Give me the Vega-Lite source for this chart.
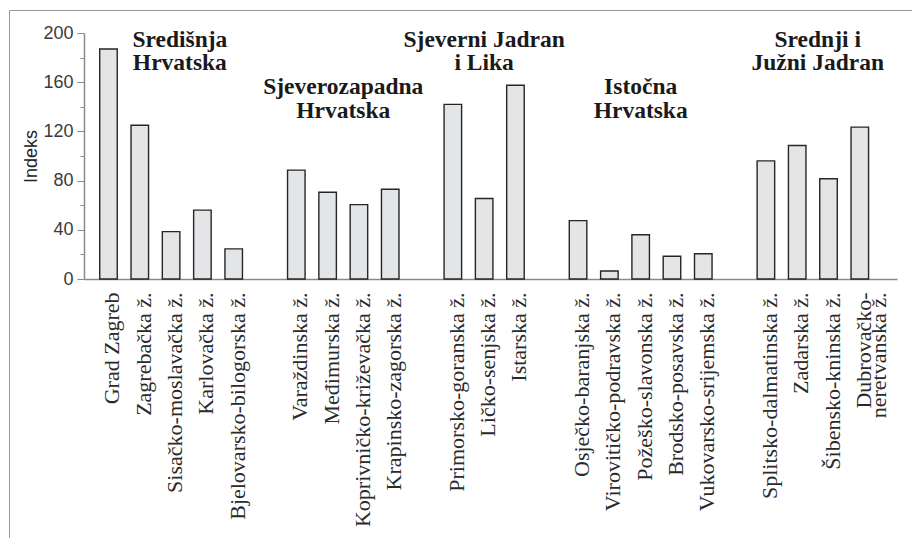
{
  "$schema": "https://vega.github.io/schema/vega-lite/v6.json",
  "width": 908,
  "height": 533,
  "autosize": {"type": "none"},
  "padding": {"left": 9, "top": 10, "right": -5, "bottom": -5},
  "background": "white",
  "config": {"view": {"stroke": "#9a9a9a", "strokeWidth": 1}},
  "datasets": {
    "counties": [
      {"county": "Grad Zagreb", "region": "Središnja Hrvatska", "index": 187},
      {"county": "Zagrebačka ž.", "region": "Središnja Hrvatska", "index": 125},
      {"county": "Sisačko-moslavačka ž.", "region": "Središnja Hrvatska", "index": 38.5},
      {"county": "Karlovačka ž.", "region": "Središnja Hrvatska", "index": 56},
      {"county": "Bjelovarsko-bilogorska ž.", "region": "Središnja Hrvatska", "index": 24.5},
      {"county": "Varaždinska ž.", "region": "Sjeverozapadna Hrvatska", "index": 88.5},
      {"county": "Međimurska ž.", "region": "Sjeverozapadna Hrvatska", "index": 70.5},
      {"county": "Koprivničko-križevačka ž.", "region": "Sjeverozapadna Hrvatska", "index": 60.5},
      {"county": "Krapinsko-zagorska ž.", "region": "Sjeverozapadna Hrvatska", "index": 73},
      {"county": "Primorsko-goranska ž.", "region": "Sjeverni Jadran i Lika", "index": 142},
      {"county": "Ličko-senjska ž.", "region": "Sjeverni Jadran i Lika", "index": 65.5},
      {"county": "Istarska ž.", "region": "Sjeverni Jadran i Lika", "index": 157.5},
      {"county": "Osječko-baranjska ž.", "region": "Istočna Hrvatska", "index": 47.5},
      {"county": "Virovitičko-podravska ž.", "region": "Istočna Hrvatska", "index": 6.5},
      {"county": "Požeško-slavonska ž.", "region": "Istočna Hrvatska", "index": 36},
      {"county": "Brodsko-posavska ž.", "region": "Istočna Hrvatska", "index": 18.5},
      {"county": "Vukovarsko-srijemska ž.", "region": "Istočna Hrvatska", "index": 20.5},
      {"county": "Splitsko-dalmatinska ž.", "region": "Srednji i Južni Jadran", "index": 96},
      {"county": "Zadarska ž.", "region": "Srednji i Južni Jadran", "index": 108.5},
      {"county": "Šibensko-kninska ž.", "region": "Srednji i Južni Jadran", "index": 81.5},
      {"county": "Dubrovačko-neretvanska ž.", "region": "Srednji i Južni Jadran", "index": 123.5}
    ],
    "regions": [
      {"key": "r1", "label": "Središnja\nHrvatska"},
      {"key": "r2", "label": "Sjeverozapadna\nHrvatska"},
      {"key": "r3", "label": "Sjeverni Jadran\ni Lika"},
      {"key": "r4", "label": "Istočna\nHrvatska"},
      {"key": "r5", "label": "Srednji i\nJužni Jadran"}
    ]
  },
  "layer": [
    {
      "data": {"name": "counties"},
      "mark": {"type": "bar", "fill": "#e4e5e7", "stroke": "#262626", "strokeWidth": 1.4},
      "encoding": {
        "x": {
          "field": "county",
          "type": "nominal",
          "sort": null,
          "scale": {
            "domain": [
              "Grad Zagreb", "Zagrebačka ž.", "Sisačko-moslavačka ž.", "Karlovačka ž.", "Bjelovarsko-bilogorska ž.",
              "gap1",
              "Varaždinska ž.", "Međimurska ž.", "Koprivničko-križevačka ž.", "Krapinsko-zagorska ž.",
              "gap2",
              "Primorsko-goranska ž.", "Ličko-senjska ž.", "Istarska ž.",
              "gap3",
              "Osječko-baranjska ž.", "Virovitičko-podravska ž.", "Požeško-slavonska ž.", "Brodsko-posavska ž.", "Vukovarsko-srijemska ž.",
              "gap4",
              "Splitsko-dalmatinska ž.", "Zadarska ž.", "Šibensko-kninska ž.", "Dubrovačko-neretvanska ž."
            ],
            "range": [75, 888],
            "paddingInner": 0.44,
            "paddingOuter": 0.705,
            "align": 0.356
          },
          "axis": {
            "title": null,
            "offset": -264,
            "ticks": false,
            "tickSize": 0,
            "grid": false,
            "labelAngle": -90,
            "labelFont": "Liberation Serif",
            "labelFontSize": 22,
            "labelColor": "#2a2a2a",
            "labelPadding": 13,
            "labelOffset": 4,
            "labelLineHeight": 15,
            "labelLimit": 500,
            "labelOverlap": false,
            "labelExpr": "indexof(datum.value, 'gap') === 0 ? '' : (datum.value === 'Dubrovačko-neretvanska ž.' ? ['Dubrovačko-', 'neretvanska ž.'] : datum.label)",
            "domainColor": "#8a8a8a",
            "domainWidth": 1.5
          }
        },
        "y": {
          "field": "index",
          "type": "quantitative",
          "scale": {"domain": [0, 200], "range": [269, 23], "nice": false},
          "axis": {
            "title": "Indeks",
            "offset": -75,
            "grid": false,
            "values": [0, 20, 40, 60, 80, 100, 120, 140, 160, 180, 200],
            "labelExpr": "datum.value % 40 === 0 ? datum.label : ''",
            "labelOverlap": false,
            "labelFont": "Liberation Sans",
            "labelFontSize": 18,
            "labelColor": "#3a3a3a",
            "labelPadding": 4,
            "tickColor": "#8a8a8a",
            "tickWidth": 1,
            "tickSize": {"condition": {"test": "datum.value % 40 === 0", "value": 7}, "value": 4},
            "domainColor": "#8a8a8a",
            "domainWidth": 1.5,
            "titleFont": "Liberation Sans",
            "titleFontSize": 18,
            "titleFontWeight": "normal",
            "titleColor": "#222222",
            "titlePadding": 2
          }
        }
      }
    },
    {
      "data": {"name": "regions"},
      "transform": [{"filter": "datum.key === 'r1'"}],
      "mark": {"type": "text", "font": "Liberation Serif", "fontWeight": "bold", "fontSize": 23.5, "lineHeight": 23.5, "lineBreak": "\n", "align": "center", "baseline": "alphabetic", "color": "#1a1a1a"},
      "encoding": {
        "x": {"datum": "Sisačko-moslavačka ž.", "type": "nominal", "bandPosition": 1},
        "y": {"datum": 188.8, "type": "quantitative"},
        "text": {"field": "label"}
      }
    },
    {
      "data": {"name": "regions"},
      "transform": [{"filter": "datum.key === 'r2'"}],
      "mark": {"type": "text", "font": "Liberation Serif", "fontWeight": "bold", "fontSize": 23.5, "lineHeight": 23.5, "lineBreak": "\n", "align": "center", "baseline": "alphabetic", "color": "#1a1a1a"},
      "encoding": {
        "x": {"datum": "Međimurska ž.", "type": "nominal", "bandPosition": 1.394},
        "y": {"datum": 150.4, "type": "quantitative"},
        "text": {"field": "label"}
      }
    },
    {
      "data": {"name": "regions"},
      "transform": [{"filter": "datum.key === 'r3'"}],
      "mark": {"type": "text", "font": "Liberation Serif", "fontWeight": "bold", "fontSize": 23.5, "lineHeight": 23.5, "lineBreak": "\n", "align": "center", "baseline": "alphabetic", "color": "#1a1a1a"},
      "encoding": {
        "x": {"datum": "Ličko-senjska ž.", "type": "nominal", "bandPosition": 0.5},
        "y": {"datum": 188.8, "type": "quantitative"},
        "text": {"field": "label"}
      }
    },
    {
      "data": {"name": "regions"},
      "transform": [{"filter": "datum.key === 'r4'"}],
      "mark": {"type": "text", "font": "Liberation Serif", "fontWeight": "bold", "fontSize": 23.5, "lineHeight": 23.5, "lineBreak": "\n", "align": "center", "baseline": "alphabetic", "color": "#1a1a1a"},
      "encoding": {
        "x": {"datum": "Požeško-slavonska ž.", "type": "nominal", "bandPosition": 0.5},
        "y": {"datum": 150.4, "type": "quantitative"},
        "text": {"field": "label"}
      }
    },
    {
      "data": {"name": "regions"},
      "transform": [{"filter": "datum.key === 'r5'"}],
      "mark": {"type": "text", "font": "Liberation Serif", "fontWeight": "bold", "fontSize": 23.5, "lineHeight": 23.5, "lineBreak": "\n", "align": "center", "baseline": "alphabetic", "color": "#1a1a1a"},
      "encoding": {
        "x": {"datum": "Zadarska ž.", "type": "nominal", "bandPosition": 1.67},
        "y": {"datum": 188.8, "type": "quantitative"},
        "text": {"field": "label"}
      }
    }
  ]
}
